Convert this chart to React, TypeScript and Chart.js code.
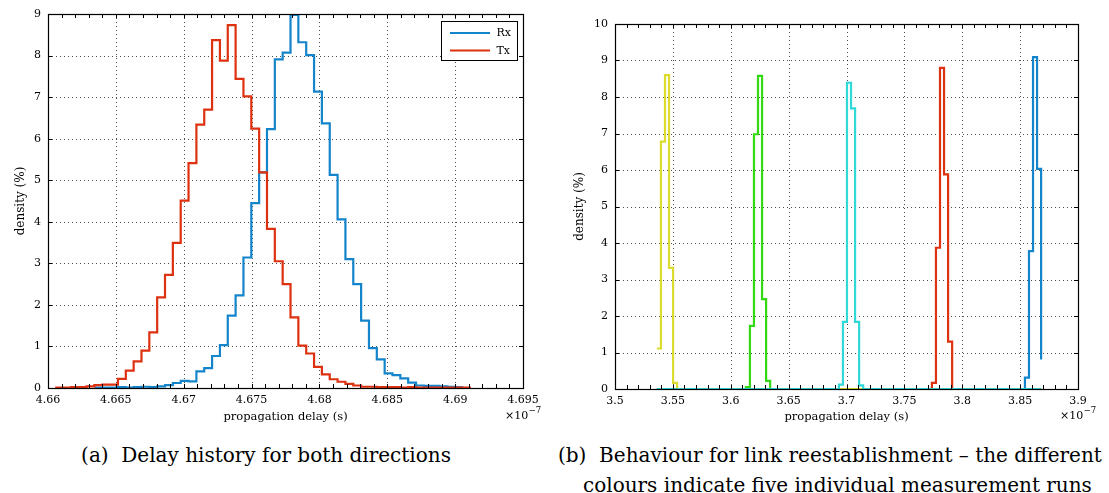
import React, { useEffect, useRef } from 'react';
import { Chart, registerables } from 'chart.js';

Chart.register(...registerables);

const FONT = '"DejaVu Serif", serif';

// ---------------- (a) Delay history for both directions ----------------
// x unit: 1e-7 s ; histogram stairs, left edge of first bin + bin width
const DELAY_BIN_START = 4.66053;
const DELAY_BIN_WIDTH = 0.000578;
const TX_FIRST_BIN = 0;
const RX_FIRST_BIN = 5;
const TX_DENSITY = [
  0.01, 0.01, 0.02, 0.02, 0.04, 0.07, 0.08, 0.08, 0.22, 0.42,
  0.64, 0.90, 1.34, 2.18, 2.72, 3.49, 4.51, 5.41, 6.34, 6.70,
  8.37, 7.88, 8.73, 7.44, 7.02, 6.24, 5.19, 3.83, 3.05, 2.50,
  1.70, 1.02, 0.83, 0.51, 0.33, 0.21, 0.15, 0.10, 0.06, 0.03,
  0.03, 0.02, 0.02, 0.02, 0.01, 0.02, 0.01, 0.01, 0.01, 0.01,
  0.01, 0.01, 0.01, 0.01,
];
const RX_DENSITY = [
  0.01, 0.01, 0.01, 0.02, 0.01, 0.02, 0.03, 0.02, 0.04, 0.07,
  0.12, 0.17, 0.16, 0.40, 0.48, 0.77, 1.03, 1.74, 2.23, 3.14,
  4.45, 5.19, 6.23, 7.91, 8.07, 8.98, 8.32, 8.01, 7.13, 6.37,
  5.13, 4.06, 3.10, 2.50, 1.62, 0.96, 0.69, 0.35, 0.31, 0.23,
  0.13, 0.06, 0.05, 0.05, 0.04, 0.03, 0.02, 0.02,
];
const DELAY_X_TICKS = [4.66, 4.665, 4.67, 4.675, 4.68, 4.685, 4.69, 4.695];
const DELAY_X_LABELS = ['4.66', '4.665', '4.67', '4.675', '4.68', '4.685', '4.69', '4.695'];
const DENSITY_A_TICKS = [0, 1, 2, 3, 4, 5, 6, 7, 8, 9];
const DENSITY_A_LABELS = ['0', '1', '2', '3', '4', '5', '6', '7', '8', '9'];

// ---------------- (b) Link reestablishment runs ----------------
const RUN_BIN_START = 3.5362;
const RUN_BIN_WIDTH = 0.003494;
const RUN_BIN_COUNT = 96;
const RUN_YELLOW_FIRST = 0;
const RUN_YELLOW = [1.11, 6.78, 8.60, 3.32, 0.17];
const RUN_GREEN_FIRST = 22;
const RUN_GREEN = [0.05, 1.73, 6.98, 8.58, 2.46, 0.22];
const RUN_CYAN_FIRST = 45;
const RUN_CYAN = [0.12, 1.84, 8.39, 7.69, 1.84, 0.10];
const RUN_RED_FIRST = 68;
const RUN_RED = [0.17, 3.87, 8.80, 5.88, 1.30];
const RUN_BLUE_FIRST = 91;
const RUN_BLUE = [0.31, 3.78, 9.09, 6.03, 0.81];
const RUN_X_TICKS = [3.5, 3.55, 3.6, 3.65, 3.7, 3.75, 3.8, 3.85, 3.9];
const RUN_X_LABELS = ['3.5', '3.55', '3.6', '3.65', '3.7', '3.75', '3.8', '3.85', '3.9'];
const DENSITY_B_TICKS = [0, 1, 2, 3, 4, 5, 6, 7, 8, 9, 10];
const DENSITY_B_LABELS = ['0', '1', '2', '3', '4', '5', '6', '7', '8', '9', '10'];

const C_BLUE = '#1485CB';
const C_RED = '#DD3110';
const C_YELLOW = '#DCDC2E';
const C_GREEN = '#33D912';
const C_CYAN = '#30D8D8';

function binPoints(start: number, width: number, first: number, values: number[]) {
  return values.map((v, i) => ({ x: start + (first + i) * width, y: v }));
}

function runPoints(first: number, values: number[]) {
  const full = new Array(RUN_BIN_COUNT).fill(0);
  values.forEach((v, i) => { full[first + i] = v; });
  return binPoints(RUN_BIN_START, RUN_BIN_WIDTH, 0, full);
}

const matlabAxes = {
  id: 'matlabAxes',
  beforeDatasetsDraw(chart: any, _args: any, opts: any) {
    const { ctx, chartArea: a, scales } = chart;
    const x = scales.x, y = scales.y;
    ctx.save();
    ctx.strokeStyle = 'rgba(0,0,0,0.7)';
    ctx.lineWidth = 1;
    ctx.setLineDash([1, 3]);
    x.ticks.forEach((t: any) => {
      const px = Math.round(x.getPixelForValue(t.value)) + 0.5;
      if (px > a.left + 2 && px < a.right - 2) {
        ctx.beginPath(); ctx.moveTo(px, a.top); ctx.lineTo(px, a.bottom); ctx.stroke();
      }
    });
    y.ticks.forEach((t: any) => {
      const py = Math.round(y.getPixelForValue(t.value)) + 0.5;
      if (py > a.top + 2 && py < a.bottom - 2) {
        ctx.beginPath(); ctx.moveTo(a.left, py); ctx.lineTo(a.right, py); ctx.stroke();
      }
    });
    ctx.restore();
  },
  afterDraw(chart: any, _args: any, opts: any) {
    const { ctx, chartArea: a, scales } = chart;
    const x = scales.x, y = scales.y;
    ctx.save();
    ctx.strokeStyle = '#000';
    ctx.lineWidth = 1;
    ctx.setLineDash([]);
    // tick marks (major + minor on x), inward on all sides
    const L = 4;
    const xt = x.ticks.map((t: any) => t.value);
    const xs: number[] = [];
    for (let i = 0; i < xt.length; i++) {
      xs.push(xt[i]);
      if (i < xt.length - 1) {
        for (let k = 1; k < opts.minor; k++) xs.push(xt[i] + (xt[i + 1] - xt[i]) * k / opts.minor);
      }
    }
    xs.forEach((v) => {
      const px = Math.round(x.getPixelForValue(v)) + 0.5;
      ctx.beginPath();
      ctx.moveTo(px, a.bottom); ctx.lineTo(px, a.bottom - L);
      ctx.moveTo(px, a.top); ctx.lineTo(px, a.top + L);
      ctx.stroke();
    });
    y.ticks.forEach((t: any) => {
      const py = Math.round(y.getPixelForValue(t.value)) + 0.5;
      ctx.beginPath();
      ctx.moveTo(a.left, py); ctx.lineTo(a.left + L, py);
      ctx.moveTo(a.right, py); ctx.lineTo(a.right - L, py);
      ctx.stroke();
    });
    // box
    ctx.lineWidth = 1.2;
    ctx.strokeRect(Math.round(a.left) + 0.5, Math.round(a.top) + 0.5,
      Math.round(a.right) - Math.round(a.left), Math.round(a.bottom) - Math.round(a.top));

    // titles
    ctx.fillStyle = '#000';
    ctx.font = `11.5px ${FONT}`;
    ctx.textAlign = 'center';
    ctx.textBaseline = 'middle';
    ctx.fillText(opts.xTitle, (a.left + a.right) / 2, opts.xTitleY);
    ctx.save();
    ctx.translate(a.left - opts.yTitleOffset, (a.top + a.bottom) / 2);
    ctx.rotate(-Math.PI / 2);
    ctx.font = `12px ${FONT}`;
    ctx.fillText(opts.yTitle, 0, 0);
    ctx.restore();
    // exponent
    ctx.textAlign = 'left';
    ctx.font = `11px ${FONT}`;
    const ex = a.right - 18;
    ctx.fillText('×10', ex, opts.xTitleY - 1);
    const w = ctx.measureText('×10').width;
    ctx.font = `8.5px ${FONT}`;
    ctx.fillText('−7', ex + w + 0.5, opts.xTitleY - 6);

    // legend
    if (opts.legend) {
      const lg = opts.legend;
      const x0 = Math.round(a.right - lg.right - lg.width) + 0.5;
      const y0 = Math.round(a.top + lg.top) + 0.5;
      ctx.fillStyle = '#fff';
      ctx.fillRect(x0, y0, lg.width, lg.height);
      ctx.strokeStyle = '#000';
      ctx.lineWidth = 1;
      ctx.strokeRect(x0, y0, lg.width, lg.height);
      ctx.font = `11px ${FONT}`;
      ctx.textAlign = 'left';
      ctx.textBaseline = 'middle';
      lg.items.forEach((label: string, i: number) => {
        const ds = chart.data.datasets.find((d: any) => d.label === label);
        const yy = y0 + 11.5 + i * 17.5;
        ctx.strokeStyle = ds.borderColor;
        ctx.lineWidth = 2.2;
        ctx.beginPath(); ctx.moveTo(x0 + 8.5, yy); ctx.lineTo(x0 + 48.5, yy); ctx.stroke();
        ctx.fillStyle = '#000';
        ctx.fillText(label, x0 + 55, yy + 0.5);
      });
    }
    ctx.restore();
  },
};

function lineDs(label: string, color: string, data: any[]) {
  return {
    label,
    data,
    borderColor: color,
    backgroundColor: color,
    borderWidth: 2.2,
    pointRadius: 0,
    pointHoverRadius: 0,
    stepped: 'before',
    fill: false,
    tension: 0,
  };
}

function makeConfig(p: any) {
  return {
    type: 'line',
    data: { datasets: p.datasets },
    plugins: [matlabAxes],
    options: {
      responsive: false,
      maintainAspectRatio: false,
      animation: false,
      events: [],
      layout: { padding: p.padding },
      plugins: {
        legend: { display: false },
        tooltip: { enabled: false },
        matlabAxes: p.axes,
      },
      scales: {
        x: {
          type: 'linear',
          min: p.xTicks[0],
          max: p.xTicks[p.xTicks.length - 1],
          afterBuildTicks: (s: any) => { s.ticks = p.xTicks.map((value: number) => ({ value })); },
          afterFit: (s: any) => { s.height = p.xAxisHeight; },
          grid: { display: false, drawTicks: false },
          border: { display: false },
          ticks: {
            autoSkip: false, maxRotation: 0, padding: 6, color: '#000',
            font: { family: FONT, size: 11 },
            callback: (_v: any, i: number) => p.xLabels[i],
          },
        },
        y: {
          type: 'linear',
          min: p.yTicks[0],
          max: p.yTicks[p.yTicks.length - 1],
          afterBuildTicks: (s: any) => { s.ticks = p.yTicks.map((value: number) => ({ value })); },
          afterFit: (s: any) => { s.width = p.yAxisWidth; },
          grid: { display: false, drawTicks: false },
          border: { display: false },
          ticks: {
            autoSkip: false, padding: 7, color: '#000',
            font: { family: FONT, size: 11 },
            callback: (_v: any, i: number) => p.yLabels[i],
          },
        },
      },
    },
  };
}

function ChartCanvas({ config, left, width, height }: any) {
  const ref = useRef<HTMLCanvasElement | null>(null);
  useEffect(() => {
    const chart = new Chart(ref.current as HTMLCanvasElement, config);
    return () => chart.destroy();
  }, []);
  return (
    <canvas
      ref={ref}
      width={width}
      height={height}
      style={{ position: 'absolute', left, top: 0, width, height }}
    />
  );
}

export default function App() {
  const configA = makeConfig({
    datasets: [
      lineDs('Tx', C_RED, binPoints(DELAY_BIN_START, DELAY_BIN_WIDTH, TX_FIRST_BIN, TX_DENSITY)),
      lineDs('Rx', C_BLUE, binPoints(DELAY_BIN_START, DELAY_BIN_WIDTH, RX_FIRST_BIN, RX_DENSITY)),
    ],
    padding: { left: 0, top: 14, right: 22, bottom: 0 },
    xTicks: DELAY_X_TICKS, xLabels: DELAY_X_LABELS,
    yTicks: DENSITY_A_TICKS, yLabels: DENSITY_A_LABELS,
    xAxisHeight: 42, yAxisWidth: 48,
    axes: {
      minor: 5, xTitle: 'propagation delay (s)', yTitle: 'density (%)',
      xTitleY: 417, yTitleOffset: 27,
      legend: { items: ['Rx', 'Tx'], right: 6, top: 7, width: 76, height: 39 },
    },
  });
  const configB = makeConfig({
    datasets: [
      lineDs('run 3', C_CYAN, runPoints(RUN_CYAN_FIRST, RUN_CYAN)),
      lineDs('run 1', C_YELLOW, runPoints(RUN_YELLOW_FIRST, RUN_YELLOW)),
      lineDs('run 2', C_GREEN, runPoints(RUN_GREEN_FIRST, RUN_GREEN)),
      lineDs('run 4', C_RED, runPoints(RUN_RED_FIRST, RUN_RED)),
      lineDs('run 5', C_BLUE, runPoints(RUN_BLUE_FIRST, RUN_BLUE)),
    ],
    padding: { left: 0, top: 24, right: 31, bottom: 0 },
    xTicks: RUN_X_TICKS, xLabels: RUN_X_LABELS,
    yTicks: DENSITY_B_TICKS, yLabels: DENSITY_B_LABELS,
    xAxisHeight: 41, yAxisWidth: 70,
    axes: {
      minor: 5, xTitle: 'propagation delay (s)', yTitle: 'density (%)',
      xTitleY: 417, yTitleOffset: 35,
    },
  });
  const capStyle: any = {
    position: 'absolute', fontFamily: FONT, fontSize: 20, lineHeight: '30px',
    color: '#000', whiteSpace: 'nowrap',
  };
  return (
    <div style={{ position: 'absolute', left: 0, top: 0, width: 1109, height: 493, background: '#fff', overflow: 'hidden' }}>
      <ChartCanvas config={configA} left={0} width={545} height={430} />
      <ChartCanvas config={configB} left={545} width={564} height={430} />
      <div style={{ ...capStyle, left: 0, width: 532, top: 440, textAlign: 'center' }}>
        (a)&nbsp;&nbsp;Delay history for both directions
      </div>
      <div style={{ ...capStyle, left: 558, top: 440 }}>
        (b)&nbsp;&nbsp;Behaviour for link reestablishment – the different
      </div>
      <div style={{ ...capStyle, left: 583, top: 470 }}>
        colours indicate five individual measurement runs
      </div>
    </div>
  );
}
